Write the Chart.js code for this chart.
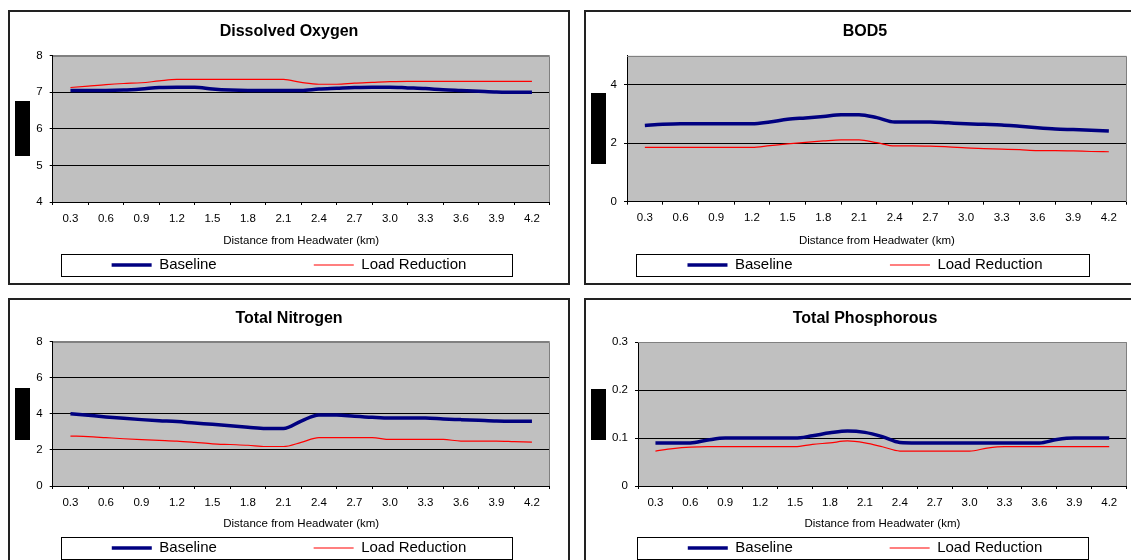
<!DOCTYPE html>
<html>
<head>
<meta charset="utf-8">
<script src="https://cdn.jsdelivr.net/npm/chart.js@4.4.1/dist/chart.umd.min.js"></script>
<style>
    body { margin: 0; background: #fff; overflow: hidden; width: 1131px; height: 560px; position: relative; }
    .panel { position: absolute; width: 562px; height: 275px; border: 2px solid #222; box-sizing: border-box; background: #fff; }
    .panel canvas { display: block; }
</style>
</head>
<body>
<div class="panel" style="left:8px; top:10px;"><canvas id="chartDO" width="558" height="271"></canvas></div>
<div class="panel" style="left:584px; top:10px;"><canvas id="chartBOD" width="558" height="271"></canvas></div>
<div class="panel" style="left:8px; top:298px;"><canvas id="chartTN" width="558" height="271"></canvas></div>
<div class="panel" style="left:584px; top:298px;"><canvas id="chartTP" width="558" height="271"></canvas></div>

<script>
// distance from headwater (km), one value per model reach
let distances = [0.3, 0.45, 0.6, 0.75, 0.9, 1.05, 1.2, 1.35, 1.5, 1.65, 1.8, 1.95, 2.1, 2.25,
                 2.4, 2.55, 2.7, 2.85, 3.0, 3.15, 3.3, 3.45, 3.6, 3.75, 3.9, 4.05, 4.2];
let xLabels = ["0.3", "0.6", "0.9", "1.2", "1.5", "1.8", "2.1", "2.4", "2.7", "3.0", "3.3", "3.6", "3.9", "4.2"];
let seriesNames = ["Baseline", "Load Reduction"];

let doBaseline  = [7.05, 7.05, 7.05, 7.06, 7.09, 7.13, 7.14, 7.14, 7.09, 7.06, 7.05, 7.05, 7.05, 7.05,
                   7.09, 7.11, 7.13, 7.14, 7.14, 7.12, 7.10, 7.07, 7.05, 7.03, 7.01, 7.00, 7.00];
let doReduction = [7.13, 7.17, 7.21, 7.24, 7.26, 7.31, 7.35, 7.35, 7.35, 7.35, 7.35, 7.35, 7.35, 7.27,
                   7.22, 7.22, 7.25, 7.27, 7.29, 7.30, 7.30, 7.30, 7.30, 7.30, 7.30, 7.30, 7.30];
let doTicks = [4, 5, 6, 7, 8];

let bodBaseline  = [2.61, 2.65, 2.67, 2.67, 2.67, 2.67, 2.67, 2.73, 2.82, 2.87, 2.92, 2.98, 2.98, 2.88,
                    2.73, 2.73, 2.73, 2.70, 2.67, 2.65, 2.63, 2.58, 2.53, 2.49, 2.47, 2.45, 2.42];
let bodReduction = [1.86, 1.86, 1.86, 1.86, 1.86, 1.86, 1.86, 1.92, 1.98, 2.03, 2.08, 2.12, 2.12, 2.02,
                    1.91, 1.91, 1.90, 1.88, 1.84, 1.82, 1.80, 1.78, 1.75, 1.75, 1.74, 1.72, 1.71];
let bodTicks = [0, 2, 4];

let tnBaseline  = [4.01, 3.92, 3.83, 3.75, 3.68, 3.62, 3.57, 3.49, 3.42, 3.34, 3.26, 3.19, 3.19, 3.60,
                   3.94, 3.94, 3.87, 3.81, 3.77, 3.77, 3.77, 3.72, 3.68, 3.64, 3.60, 3.59, 3.59];
let tnReduction = [2.77, 2.74, 2.68, 2.62, 2.57, 2.53, 2.49, 2.42, 2.34, 2.30, 2.26, 2.19, 2.19, 2.42,
                   2.68, 2.68, 2.68, 2.68, 2.58, 2.58, 2.58, 2.58, 2.49, 2.49, 2.49, 2.46, 2.43];
let tnTicks = [0, 2, 4, 6, 8];

let tpBaseline  = [0.090, 0.090, 0.090, 0.096, 0.100, 0.100, 0.100, 0.100, 0.100, 0.105, 0.111, 0.115, 0.112, 0.103,
                   0.091, 0.090, 0.090, 0.090, 0.090, 0.090, 0.090, 0.090, 0.090, 0.097, 0.100, 0.100, 0.100];
let tpReduction = [0.073, 0.078, 0.081, 0.082, 0.082, 0.082, 0.082, 0.082, 0.082, 0.087, 0.090, 0.094, 0.090, 0.082,
                   0.073, 0.073, 0.073, 0.073, 0.073, 0.079, 0.082, 0.082, 0.082, 0.082, 0.082, 0.082, 0.082];
let tpTicks = [0, 0.1, 0.2, 0.3];

Chart.defaults.font.family = '"Liberation Sans", Arial, sans-serif';
Chart.defaults.color = "#000";

// tick marks sit between the labels, every 0.3 km starting at 0.15
let xTickValues = [];
for (let i = 0; i <= 28; i++) {
    xTickValues.push(+(0.15 + 0.15 * i).toFixed(2));
}

function toPoints(values) {
    return values.map((v, i) => ({ x: distances[i], y: v }));
}

let panelDecor = {
    id: "panelDecor",
    beforeDraw(chart) {
        let a = chart.chartArea;
        let ctx = chart.ctx;
        ctx.save();
        ctx.fillStyle = "#c0c0c0";
        ctx.fillRect(a.left, a.top, a.right - a.left, a.bottom - a.top);
        ctx.restore();
    },
    afterDraw(chart, args, opts) {
        let a = chart.chartArea;
        let ctx = chart.ctx;
        ctx.save();
        // grey frame top / right
        ctx.strokeStyle = "#808080";
        ctx.lineWidth = 1;
        ctx.beginPath();
        ctx.moveTo(Math.round(a.left), Math.round(a.top) + 0.5);
        ctx.lineTo(Math.round(a.right) - 0.5, Math.round(a.top) + 0.5);
        ctx.lineTo(Math.round(a.right) - 0.5, Math.round(a.bottom));
        ctx.stroke();

        // box round the legend
        let hb = chart.legend.legendHitBoxes;
        let first = hb[0];
        let last = hb[hb.length - 1];
        let cy = first.top + first.height / 2;
        let left = Math.round(first.left - 51);
        let right = Math.round(last.left + last.width + 46);
        ctx.strokeStyle = "#000";
        ctx.strokeRect(left + 0.5, Math.round(cy - 11) + 0.5, right - left, 22);

        // blacked-out axis title
        ctx.fillStyle = "#000";
        ctx.fillRect(5, Math.round((a.top + a.bottom) / 2 - opts.blockH / 2), 15, opts.blockH);
        ctx.restore();
    }
};

function drawPanel(id, title, baseline, reduction, yTicks, yMin, yMax, lay) {
    new Chart(document.getElementById(id), {
        type: "line",
        data: {
            datasets: [{
                label: seriesNames[0],
                data: toPoints(baseline),
                borderColor: "#000080",
                backgroundColor: "#000080",
                borderWidth: 3.5,
                pointRadius: 0,
                cubicInterpolationMode: "monotone"
            }, {
                label: seriesNames[1],
                data: toPoints(reduction),
                borderColor: "#ff0000",
                backgroundColor: "#ff0000",
                borderWidth: 1.2,
                pointRadius: 0,
                cubicInterpolationMode: "monotone"
            }]
        },
        options: {
            responsive: false,
            animation: false,
            events: [],
            layout: { padding: { left: 0, right: 0, top: 0, bottom: lay.padBottom } },
            scales: {
                x: {
                    type: "linear",
                    min: 0.15,
                    max: 4.35,
                    afterBuildTicks: s => { s.ticks = xTickValues.map(v => ({ value: v })); },
                    afterFit: s => { s.height = lay.xAxisH; },
                    ticks: {
                        autoSkip: false,
                        maxRotation: 0,
                        padding: 6.5,
                        font: { size: 11.5 },
                        callback: (v, i) => (i % 2 ? xLabels[(i - 1) / 2] : "")
                    },
                    grid: {
                        drawOnChartArea: false,
                        tickLength: 3,
                        tickColor: c => (c.index % 2 ? "rgba(0,0,0,0)" : "#000")
                    },
                    border: { color: "#000" },
                    title: {
                        display: true,
                        text: "Distance from Headwater (km)",
                        font: { size: 11.5 },
                        padding: 0
                    }
                },
                y: {
                    min: yMin,
                    max: yMax,
                    afterBuildTicks: s => { s.ticks = yTicks.map(v => ({ value: v })); },
                    afterFit: s => { s.width = lay.yAxisW; },
                    ticks: { padding: 7, font: { size: 11.5 }, callback: v => String(v) },
                    grid: {
                        color: c => (c.tick && c.tick.value === yMax ? "#808080" : "#000"),
                        tickLength: 3,
                        tickColor: "#000"
                    },
                    border: { color: "#000" }
                },
                yRight: {
                    position: "right",
                    grid: { display: false },
                    ticks: { display: false },
                    border: { display: false },
                    afterFit: s => { s.width = lay.rightW; }
                }
            },
            plugins: {
                title: {
                    display: true,
                    text: title,
                    color: "#000",
                    font: { size: 16, weight: "bold" },
                    padding: { top: lay.titleTop, bottom: lay.titleBottom }
                },
                legend: {
                    position: "bottom",
                    labels: {
                        usePointStyle: true,
                        pointStyle: "line",
                        pointStyleWidth: 40,
                        padding: lay.legendPad,
                        color: "#000",
                        font: { size: 15 },
                        generateLabels: function (chart) {
                            let items = Chart.defaults.plugins.legend.labels.generateLabels(chart);
                            items[0].text += " ".repeat(21);
                            return items;
                        }
                    }
                },
                tooltip: { enabled: false },
                panelDecor: { blockH: lay.blockH }
            }
        },
        plugins: [panelDecor]
    });
}

drawPanel("chartDO", "Dissolved Oxygen", doBaseline, doReduction, doTicks, 4, 8,
    { titleTop: 10.4, titleBottom: 14.1, xAxisH: 45.9, legendPad: 9.6, padBottom: 0.5, yAxisW: 42.7, rightW: 18.3, blockH: 55 });
drawPanel("chartBOD", "BOD5", bodBaseline, bodReduction, bodTicks, 0, 5,
    { titleTop: 10.4, titleBottom: 14.1, xAxisH: 45.9, legendPad: 9.9, padBottom: 0.5, yAxisW: 41, rightW: 17.3, blockH: 71 });
drawPanel("chartTN", "Total Nitrogen", tnBaseline, tnReduction, tnTicks, 0, 8,
    { titleTop: 9.4, titleBottom: 13.1, xAxisH: 45.2, legendPad: 9.3, padBottom: 5.5, yAxisW: 42.7, rightW: 18.3, blockH: 52 });
drawPanel("chartTP", "Total Phosphorous", tpBaseline, tpReduction, tpTicks, 0, 0.3,
    { titleTop: 9.4, titleBottom: 13.7, xAxisH: 45.2, legendPad: 9.3, padBottom: 5.5, yAxisW: 52, rightW: 17.3, blockH: 51 });
</script>
</body>
</html>
